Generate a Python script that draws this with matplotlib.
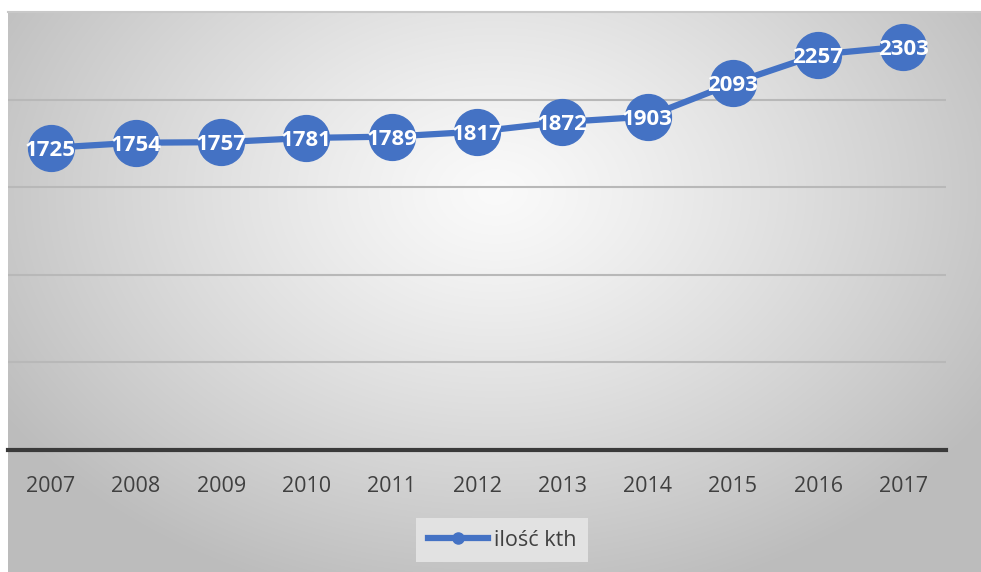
import numpy as np
import matplotlib.pyplot as plt
from matplotlib.lines import Line2D

years = ['2007', '2008', '2009', '2010', '2011', '2012', '2013', '2014', '2015', '2016', '2017']
kth = [1725, 1754, 1757, 1781, 1789, 1817, 1872, 1903, 2093, 2257, 2303]
series_name = 'ilość kth'

blue = '#4472C4'
W, H = 981, 572

fig = plt.figure(figsize=(W / 100, H / 100), dpi=100)

# background with radial gradient
bg = fig.add_axes([8 / W, 0, 1 - 8 / W, 560 / H])
bg.set_zorder(-1)
yy, xx = np.mgrid[0:560, 0:973]
d = np.sqrt(((xx - 487) / 580.0) ** 2 + ((yy - 180) / 420.0) ** 2)
d = np.clip(d, 0, 1)
shade = 0.98 - (0.98 - 0.74) * d ** 1.2
bg.imshow(np.dstack([shade] * 3), aspect='auto', interpolation='bilinear')
bg.axis('off')

# top border line
fig.add_artist(Line2D([8 / W, 1], [1 - 12 / H, 1 - 12 / H], color='#c8c8c8', lw=1.5))

ax = fig.add_axes([8 / W, 1 - 450 / H, 938 / W, 438 / H])
ax.patch.set_alpha(0)
x = np.arange(len(years))
ax.plot(x, kth, color=blue, lw=4.5, marker='o', markersize=33, zorder=3)
for xi, v in zip(x, kth):
    ax.text(xi, v, str(v), ha='center', va='center_baseline', color='white',
            fontsize=16, fontweight='bold', family='Open Sans', zorder=4)

ax.set_xlim(-0.5, len(years) - 0.5)
ax.set_ylim(0, 2500)
ax.set_yticks([500, 1000, 1500, 2000])
ax.yaxis.grid(True, color='#b8b8b8', lw=1.5)
ax.set_axisbelow(True)
ax.tick_params(axis='y', length=0, labelleft=False)
ax.set_xticks(x)
ax.set_xticklabels(years, family='Open Sans', fontsize=15.5, color='#404040')
ax.tick_params(axis='x', length=0, pad=19)
for s in ['top', 'left', 'right']:
    ax.spines[s].set_visible(False)
ax.spines['bottom'].set_color('#3a3a3a')
ax.spines['bottom'].set_linewidth(3)

handle = Line2D([], [], color=blue, lw=4.5, marker='o', markersize=8)
leg = fig.legend([handle], [series_name], loc='center', bbox_to_anchor=(502 / W, 1 - 540 / H),
                 frameon=True, fancybox=False, facecolor='#e2e2e2', edgecolor='none',
                 framealpha=1, handlelength=2.8, handletextpad=0.25, borderpad=0.55,
                 borderaxespad=0, prop={'family': 'Open Sans', 'size': 15.5})
for t in leg.get_texts():
    t.set_color('#404040')

fig.savefig('out.png', dpi=100)
